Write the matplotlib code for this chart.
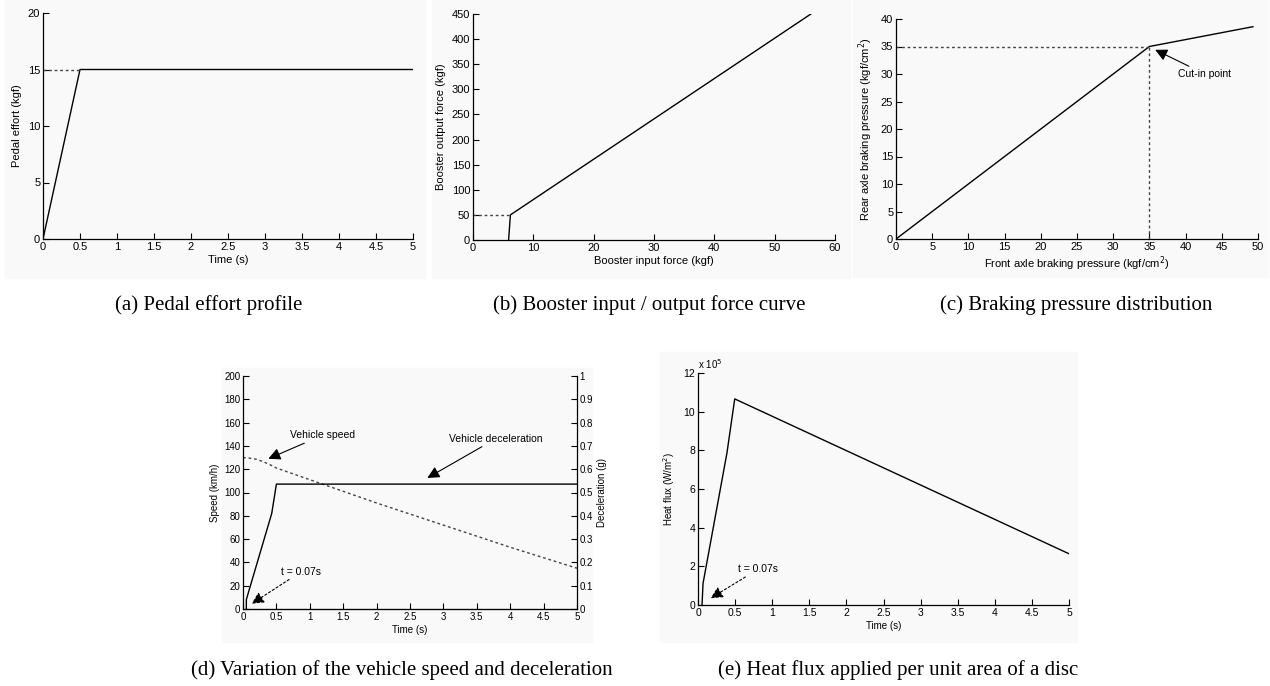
import matplotlib
matplotlib.use("Agg")
import matplotlib.pyplot as plt
from matplotlib.patches import Rectangle

W, H = 1270, 686

# (a) pedal effort
pedal_t = [0, 0.5, 5]
pedal_kgf = [0, 15, 15]
pedal_ref_t = [0, 0.5]
pedal_ref_kgf = [15, 15]

# (b) booster
booster_in = [5.9, 6.2, 56]
booster_out = [0, 50, 450]
booster_ref_in = [0, 6.2]
booster_ref_out = [50, 50]

# (c) braking pressure distribution
front_p = [0, 35, 49.3]
rear_p = [0, 35, 38.6]
cutin_front = 35
cutin_rear = 35

# (d) speed and deceleration
speed_t = [0, 0.1, 0.2, 0.3, 0.4, 0.5, 1, 2, 3, 4, 5]
speed_kmh = [130, 129.5, 128.5, 126.5, 124, 121, 111, 91, 72, 53, 35]
decel_t = [0.05, 0.05, 0.08, 0.43, 0.5, 5]
decel_g = [0, 0.04, 0.07, 0.41, 0.536, 0.536]

# (e) heat flux (x 10^5 W/m^2)
flux_t = [0.054, 0.068, 0.39, 0.495, 5]
flux_e5 = [0, 1.12, 7.86, 10.66, 2.65]

captions = ["(a) Pedal effort profile",
            "(b) Booster input / output force curve",
            "(c) Braking pressure distribution",
            "(d) Variation of the vehicle speed and deceleration",
            "(e) Heat flux applied per unit area of a disc"]

plt.rcParams['font.family'] = ['Liberation Sans', 'DejaVu Sans']

fig = plt.figure(figsize=(W / 100, H / 100), dpi=100)


def rect(l, r, t, b):
    return [l / W, 1 - b / H, (r - l) / W, (b - t) / H]


# light panel backgrounds
for l, r, t, b in [(5, 425, 0, 278), (432, 850, 0, 278), (853, 1268, 0, 277),
                   (222, 592, 368, 642), (660, 1077, 352, 642)]:
    fig.patches.append(Rectangle((l / W, 1 - b / H), (r - l) / W, (b - t) / H,
                                 transform=fig.transFigure, color='#f9f9f9',
                                 zorder=-10))


def style(ax, fs=8):
    ax.set_facecolor('none')
    for s in ['top', 'right']:
        ax.spines[s].set_visible(False)
    for s in ['left', 'bottom']:
        ax.spines[s].set_linewidth(0.9)
    ax.tick_params(direction='in', length=4, width=0.8, labelsize=fs, pad=2)


dot = dict(color='#444444', lw=1, ls=(0, (2, 2)))
solid = dict(color='black', lw=1)
arr = dict(arrowstyle='-|>,head_length=0.6,head_width=0.3', color='black',
           lw=0.8, mutation_scale=12, shrinkA=0, shrinkB=0)
halfticks = [0, 0.5, 1, 1.5, 2, 2.5, 3, 3.5, 4, 4.5, 5]
halflabels = ['0', '0.5', '1', '1.5', '2', '2.5', '3', '3.5', '4', '4.5', '5']

# (a)
ax = fig.add_axes(rect(43, 413, 13, 239))
style(ax)
ax.plot(pedal_t, pedal_kgf, **solid)
ax.plot(pedal_ref_t, pedal_ref_kgf, **dot)
ax.set_xlim(0, 5)
ax.set_ylim(0, 20)
ax.set_xticks(halfticks)
ax.set_xticklabels(halflabels)
ax.set_yticks([0, 5, 10, 15, 20])
ax.set_xlabel('Time (s)', fontsize=8, labelpad=2)
ax.set_ylabel('Pedal effort (kgf)', fontsize=8, labelpad=4)

# (b)
ax = fig.add_axes(rect(473, 835, 14, 240))
style(ax)
ax.plot(booster_in, booster_out, **solid)
ax.plot(booster_ref_in, booster_ref_out, **dot)
ax.set_xlim(0, 60)
ax.set_ylim(0, 450)
ax.set_xticks(range(0, 61, 10))
ax.set_yticks(range(0, 451, 50))
ax.set_xlabel('Booster input force (kgf)', fontsize=8, labelpad=2)
ax.set_ylabel('Booster output force (kgf)', fontsize=8, labelpad=4)

# (c)
ax = fig.add_axes(rect(896, 1258, 19, 239))
style(ax)
ax.plot(front_p, rear_p, **solid)
ax.plot([0, cutin_front], [cutin_rear, cutin_rear], **dot)
ax.plot([cutin_front, cutin_front], [0, cutin_rear], **dot)
ax.set_xlim(0, 50)
ax.set_ylim(0, 40)
ax.set_xticks(range(0, 51, 5))
ax.set_yticks(range(0, 41, 5))
ax.set_xlabel('Front axle braking pressure (kgf/cm$^2$)', fontsize=8, labelpad=2)
ax.set_ylabel('Rear axle braking pressure (kgf/cm$^2$)', fontsize=8, labelpad=4)
ax.annotate('Cut-in point', xy=(35.8, 34.4), xytext=(39, 30), fontsize=7.5,
            va='center', ha='left', arrowprops=arr)

# (d)
ax = fig.add_axes(rect(243, 577, 376, 609))
style(ax, fs=7)
ax.plot(speed_t, speed_kmh, **dot)
ax.set_xlim(0, 5)
ax.set_ylim(0, 200)
ax.set_xticks(halfticks)
ax.set_xticklabels(halflabels)
ax.set_yticks(range(0, 201, 20))
ax.set_xlabel('Time (s)', fontsize=7, labelpad=2)
ax.set_ylabel('Speed (km/h)', fontsize=7, labelpad=3)
ax2 = ax.twinx()
ax2.set_facecolor('none')
for s in ['top', 'left']:
    ax2.spines[s].set_visible(False)
ax2.spines['right'].set_linewidth(0.9)
ax2.tick_params(direction='in', length=4, width=0.8, labelsize=7, pad=2)
ax2.plot(decel_t, decel_g, **solid)
ax2.set_ylim(0, 1)
ax2.set_yticks([0, 0.1, 0.2, 0.3, 0.4, 0.5, 0.6, 0.7, 0.8, 0.9, 1])
ax2.set_yticklabels(['0', '0.1', '0.2', '0.3', '0.4', '0.5', '0.6', '0.7', '0.8', '0.9', '1'])
ax2.set_ylabel('Deceleration (g)', fontsize=7, labelpad=3)
ax.annotate('Vehicle speed', xy=(0.38, 129), xytext=(0.7, 149), fontsize=7.5,
            va='center', ha='left', arrowprops=arr)
ax.annotate('Vehicle deceleration', xy=(2.76, 112.5), xytext=(3.08, 146),
            fontsize=7.5, va='center', ha='left', arrowprops=arr)
ax.annotate('t = 0.07s', xy=(0.13, 4.5), xytext=(0.57, 32), fontsize=7.5,
            va='center', ha='left',
            arrowprops=dict(arr, ls=(0, (2, 2))))

# (e)
ax = fig.add_axes(rect(698, 1069, 373, 605))
style(ax, fs=7.5)
ax.plot(flux_t, flux_e5, **solid)
ax.set_xlim(0, 5)
ax.set_ylim(0, 12)
ax.set_xticks(halfticks)
ax.set_xticklabels(halflabels)
ax.set_yticks([0, 2, 4, 6, 8, 10, 12])
ax.set_xlabel('Time (s)', fontsize=7, labelpad=2)
ax.set_ylabel('Heat flux (W/m$^2$)', fontsize=7, labelpad=5)
ax.text(0.0, 1.01, 'x 10$^5$', transform=ax.transAxes, fontsize=7,
        ha='left', va='bottom')
ax.annotate('t = 0.07s', xy=(0.17, 0.35), xytext=(0.54, 1.85), fontsize=7.5,
            va='center', ha='left',
            arrowprops=dict(arr, ls=(0, (2, 2))))

# captions
for (cx, cy), txt in zip([(209, 305), (649, 305), (1076, 305), (402, 670), (898, 670)],
                         captions):
    fig.text(cx / W, 1 - cy / H, txt, ha='center', va='center',
             fontsize=15, family='Liberation Serif')

fig.savefig('out.png', dpi=100)
